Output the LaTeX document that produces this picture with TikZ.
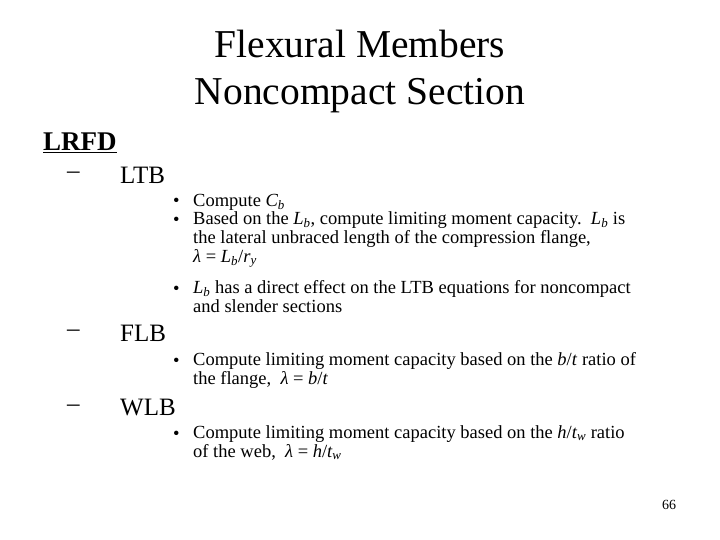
\documentclass[tikz,border=0pt]{standalone}
\usepackage{fontspec}
\setmainfont{Liberation Serif}
\begin{document}
\begin{tikzpicture}[x=1pt,y=-1pt,
 t/.style={anchor=west,inner sep=0pt,font=\fontsize{18.5}{19}\selectfont},
 h/.style={anchor=west,inner sep=0pt,font=\fontsize{25}{28}\selectfont}]
\useasboundingbox (0,0) rectangle (720,540);
\node[inner sep=0pt,align=center,font=\fontsize{39.5}{47}\selectfont] (title) at (360,72) {Flexural Members\\Noncompact Section};
\node[h,font=\fontsize{27}{30}\selectfont\bfseries] (lrfd) at (43,143) {\underline{LRFD}};
\node[h] (d1) at (67,175) {–}; \node[h] (ltb) at (120,175) {LTB};
\node[h] (d2) at (67,333) {–}; \node[h] (flb) at (120,333) {FLB};
\node[h] (d3) at (67,408) {–}; \node[h] (wlb) at (120,408) {WLB};
\foreach \y/\n in {202/b1,221/b2,290/b3,362/b4,435/b5}{\node[t] (\n) at (173,\y) {•};}
\node[t] (c1) at (193,202) {Compute \textit{C\textsubscript{b}}};
\node[t,align=left,anchor=north west] (c2) at (193,211) {Based on the \textit{L\textsubscript{b}}, compute limiting moment capacity.\ \ \textit{L\textsubscript{b}} is\\the lateral unbraced length of the compression flange,\\\textit{λ} = \textit{L\textsubscript{b}}/\textit{r\textsubscript{y}}};
\node[t,align=left,anchor=north west] (c3) at (193,280) {\textit{L\textsubscript{b}} has a direct effect on the LTB equations for noncompact\\and slender sections};
\node[t,align=left,anchor=north west] (c4) at (193,352) {Compute limiting moment capacity based on the \textit{b}/\textit{t} ratio of\\the flange,\ \ \textit{λ} = \textit{b}/\textit{t}};
\node[t,align=left,anchor=north west] (c5) at (193,425) {Compute limiting moment capacity based on the \textit{h}/\textit{t\textsubscript{w}} ratio\\of the web,\ \ \textit{λ} = \textit{h}/\textit{t\textsubscript{w}}};
\node[inner sep=0pt,font=\fontsize{14}{16}\selectfont] (pg) at (669,505) {66};
\end{tikzpicture}
\end{document}
